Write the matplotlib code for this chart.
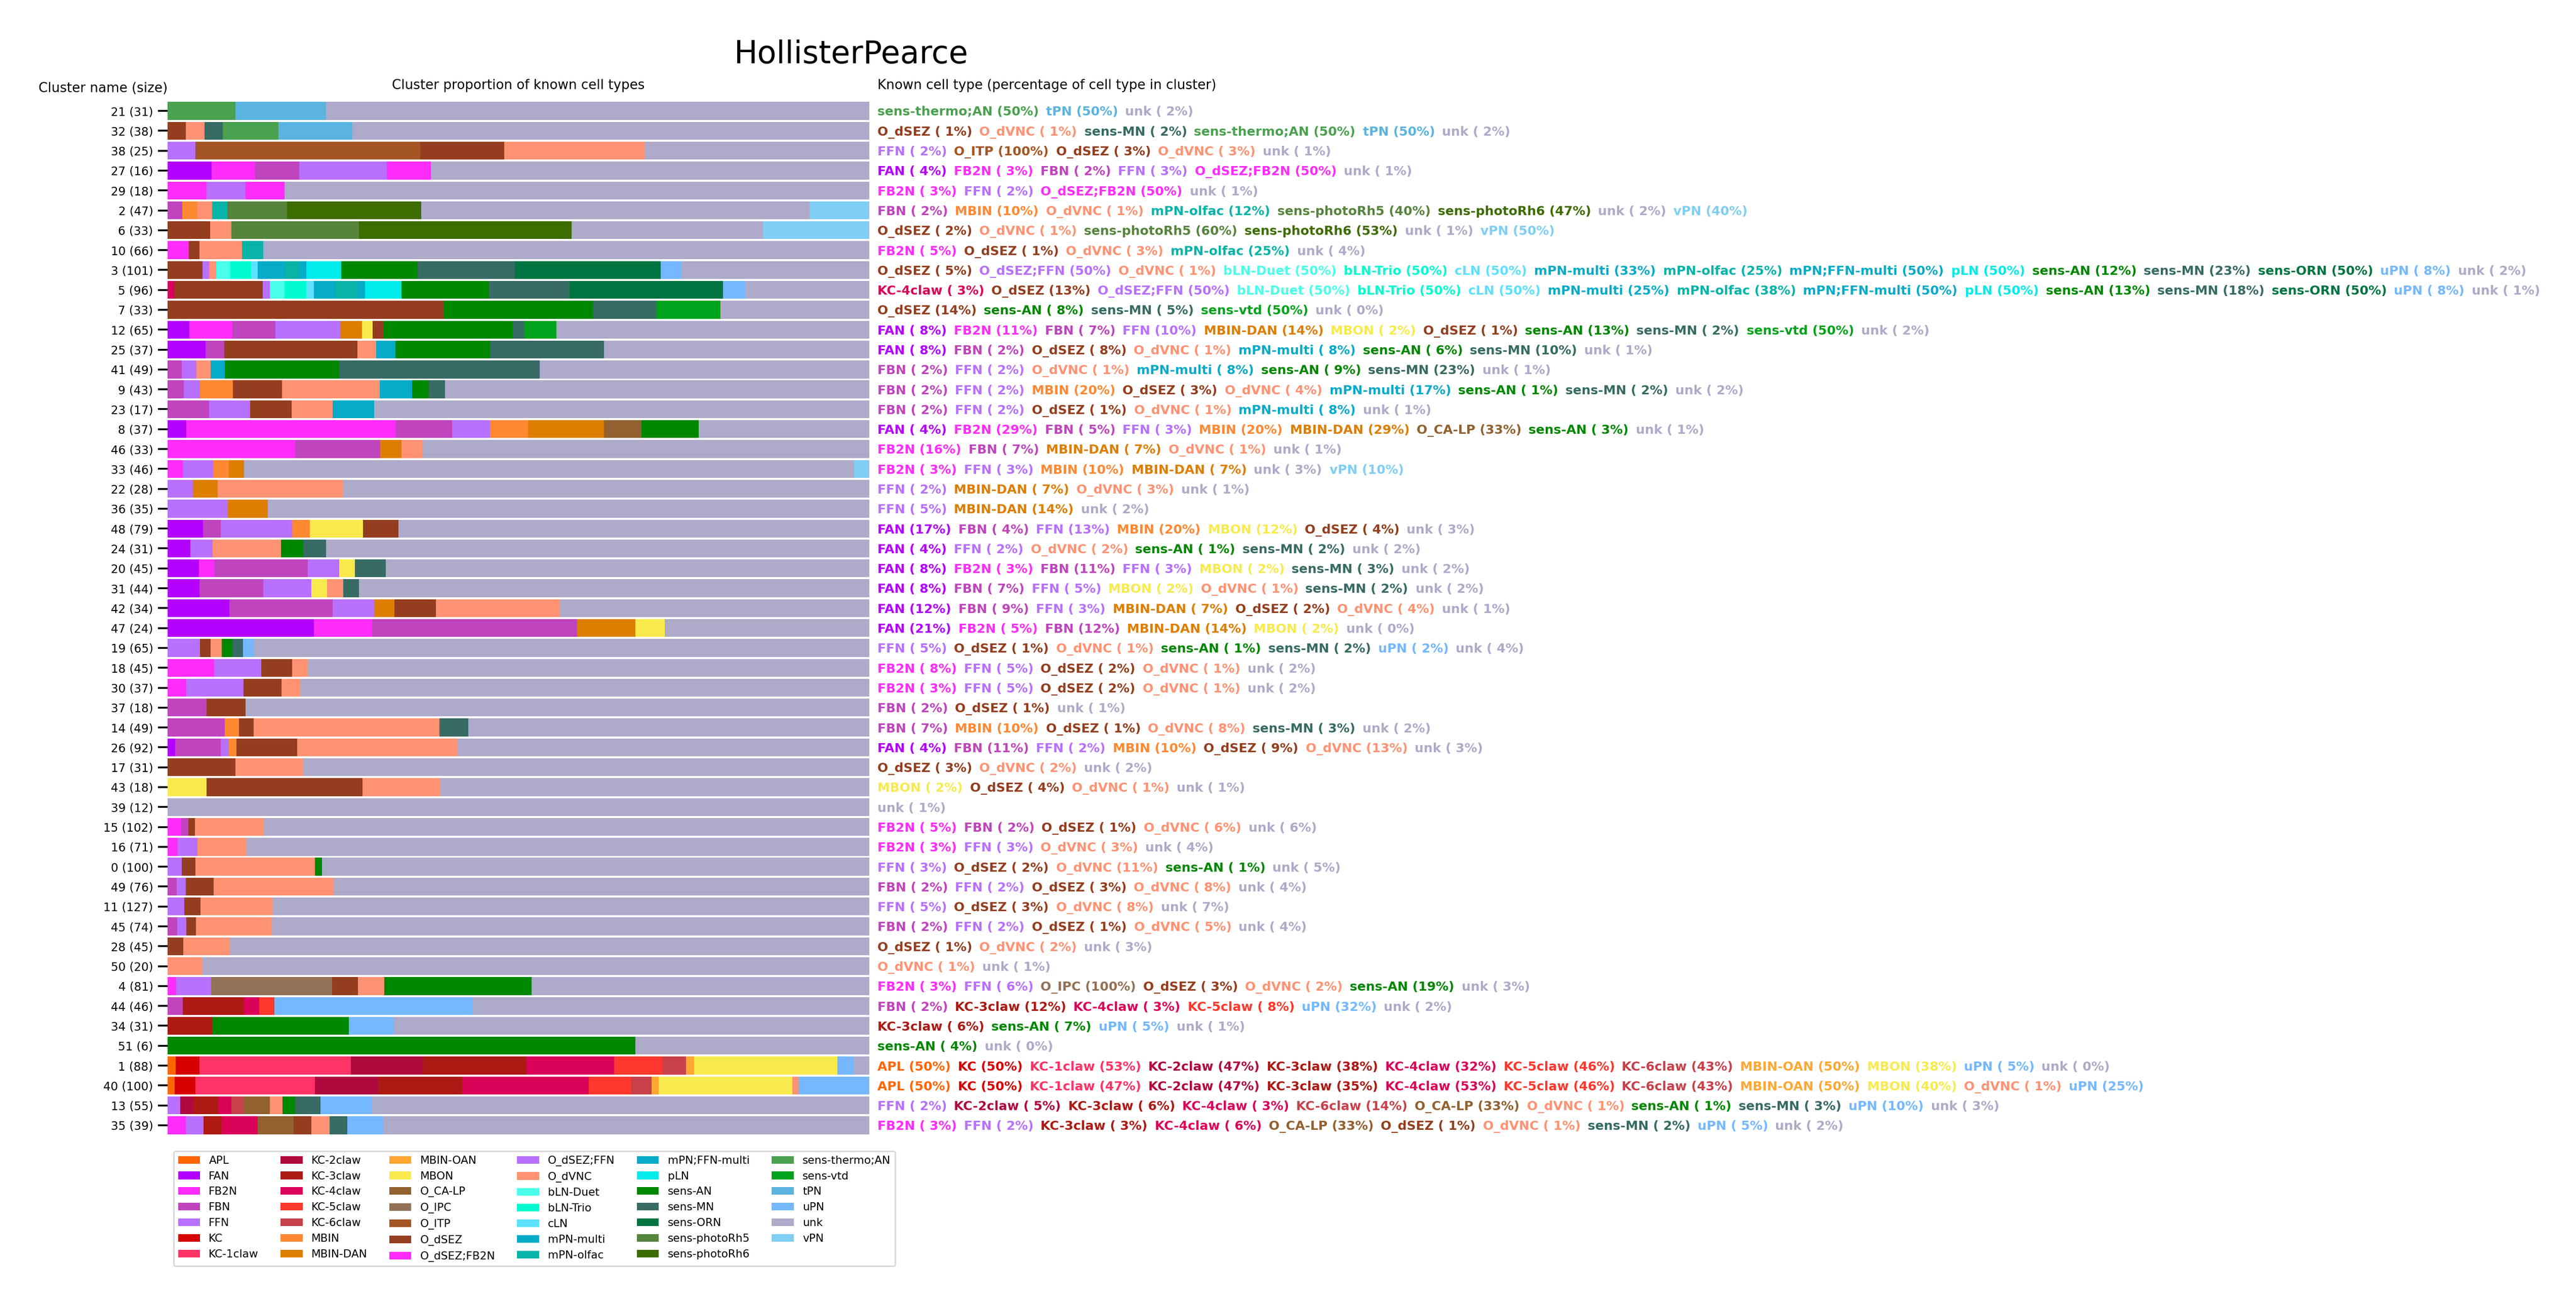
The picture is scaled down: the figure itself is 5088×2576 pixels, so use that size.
import matplotlib
matplotlib.use("Agg")
import matplotlib.pyplot as plt
from matplotlib.patches import Patch
from matplotlib.transforms import blended_transform_factory

# legend / stacking order of the cell types and their colours
cell_types = ["APL", "FAN", "FB2N", "FBN", "FFN", "KC", "KC-1claw", "KC-2claw", "KC-3claw",
              "KC-4claw", "KC-5claw", "KC-6claw", "MBIN", "MBIN-DAN", "MBIN-OAN", "MBON",
              "O_CA-LP", "O_IPC", "O_ITP", "O_dSEZ", "O_dSEZ;FB2N", "O_dSEZ;FFN", "O_dVNC",
              "bLN-Duet", "bLN-Trio", "cLN", "mPN-multi", "mPN-olfac", "mPN;FFN-multi", "pLN",
              "sens-AN", "sens-MN", "sens-ORN", "sens-photoRh5", "sens-photoRh6",
              "sens-thermo;AN", "sens-vtd", "tPN", "uPN", "unk", "vPN"]
type_colors = ["#ff6600", "#b300ff", "#ff2cfb", "#c044bd", "#b870ff", "#d60000", "#ff3366",
               "#b0093e", "#ad1a14", "#db025a", "#ff372c", "#c8414a", "#ff8833", "#dd7e00",
               "#ffa731", "#f8ea4c", "#926130", "#927157", "#a45524", "#943e1f", "#ff2cfb",
               "#b870ff", "#ff9273", "#4affe9", "#00fbd0", "#5ce1ff", "#06abc8", "#08b3a8",
               "#06abc8", "#00ebeb", "#008700", "#376b64", "#007542", "#55843c", "#3d6c00",
               "#4aa14f", "#00a31c", "#5bb4e0", "#75b8ff", "#adaaca", "#7fcef4"]

cluster_ids = [21, 32, 38, 27, 29, 2, 6, 10, 3, 5, 7, 12, 25, 41, 9, 23, 8, 46, 33, 22, 36, 48,
               24, 20, 31, 42, 47, 19, 18, 30, 37, 14, 26, 17, 43, 39, 15, 16, 0, 49, 11, 45,
               28, 50, 4, 44, 34, 51, 1, 40, 13, 35]
cluster_sizes = [31, 38, 25, 16, 18, 47, 33, 66, 101, 96, 33, 65, 37, 49, 43, 17, 37, 33, 46,
                 28, 35, 79, 31, 45, 44, 34, 24, 65, 45, 37, 18, 49, 92, 31, 18, 12, 102, 71,
                 100, 76, 127, 74, 45, 20, 81, 46, 31, 6, 88, 100, 55, 39]

# (cell type, cells in cluster, % of that cell type found in the cluster)
cluster_cells = [
    [("sens-thermo;AN", 3, 50), ("tPN", 4, 50), ("unk", 24, 2)],
    [("O_dSEZ", 1, 1), ("O_dVNC", 1, 1), ("sens-MN", 1, 2), ("sens-thermo;AN", 3, 50), ("tPN", 4, 50), ("unk", 28, 2)],
    [("FFN", 1, 2), ("O_ITP", 8, 100), ("O_dSEZ", 3, 3), ("O_dVNC", 5, 3), ("unk", 8, 1)],
    [("FAN", 1, 4), ("FB2N", 1, 3), ("FBN", 1, 2), ("FFN", 2, 3), ("O_dSEZ;FB2N", 1, 50), ("unk", 10, 1)],
    [("FB2N", 1, 3), ("FFN", 1, 2), ("O_dSEZ;FB2N", 1, 50), ("unk", 15, 1)],
    [("FBN", 1, 2), ("MBIN", 1, 10), ("O_dVNC", 1, 1), ("mPN-olfac", 1, 12), ("sens-photoRh5", 4, 40),
     ("sens-photoRh6", 9, 47), ("unk", 26, 2), ("vPN", 4, 40)],
    [("O_dSEZ", 2, 2), ("O_dVNC", 1, 1), ("sens-photoRh5", 6, 60), ("sens-photoRh6", 10, 53), ("unk", 9, 1), ("vPN", 5, 50)],
    [("FB2N", 2, 5), ("O_dSEZ", 1, 1), ("O_dVNC", 4, 3), ("mPN-olfac", 2, 25), ("unk", 57, 4)],
    [("O_dSEZ", 5, 5), ("O_dSEZ;FFN", 1, 50), ("O_dVNC", 1, 1), ("bLN-Duet", 2, 50), ("bLN-Trio", 3, 50),
     ("cLN", 1, 50), ("mPN-multi", 4, 33), ("mPN-olfac", 2, 25), ("mPN;FFN-multi", 1, 50), ("pLN", 5, 50),
     ("sens-AN", 11, 12), ("sens-MN", 14, 23), ("sens-ORN", 21, 50), ("uPN", 3, 8), ("unk", 27, 2)],
    [("KC-4claw", 1, 3), ("O_dSEZ", 12, 13), ("O_dSEZ;FFN", 1, 50), ("bLN-Duet", 2, 50), ("bLN-Trio", 3, 50),
     ("cLN", 1, 50), ("mPN-multi", 3, 25), ("mPN-olfac", 3, 38), ("mPN;FFN-multi", 1, 50), ("pLN", 5, 50),
     ("sens-AN", 12, 13), ("sens-MN", 11, 18), ("sens-ORN", 21, 50), ("uPN", 3, 8), ("unk", 17, 1)],
    [("O_dSEZ", 13, 14), ("sens-AN", 7, 8), ("sens-MN", 3, 5), ("sens-vtd", 3, 50), ("unk", 7, 0)],
    [("FAN", 2, 8), ("FB2N", 4, 11), ("FBN", 4, 7), ("FFN", 6, 10), ("MBIN-DAN", 2, 14), ("MBON", 1, 2),
     ("O_dSEZ", 1, 1), ("sens-AN", 12, 13), ("sens-MN", 1, 2), ("sens-vtd", 3, 50), ("unk", 29, 2)],
    [("FAN", 2, 8), ("FBN", 1, 2), ("O_dSEZ", 7, 8), ("O_dVNC", 1, 1), ("mPN-multi", 1, 8), ("sens-AN", 5, 6),
     ("sens-MN", 6, 10), ("unk", 14, 1)],
    [("FBN", 1, 2), ("FFN", 1, 2), ("O_dVNC", 1, 1), ("mPN-multi", 1, 8), ("sens-AN", 8, 9), ("sens-MN", 14, 23), ("unk", 23, 1)],
    [("FBN", 1, 2), ("FFN", 1, 2), ("MBIN", 2, 20), ("O_dSEZ", 3, 3), ("O_dVNC", 6, 4), ("mPN-multi", 2, 17),
     ("sens-AN", 1, 1), ("sens-MN", 1, 2), ("unk", 26, 2)],
    [("FBN", 1, 2), ("FFN", 1, 2), ("O_dSEZ", 1, 1), ("O_dVNC", 1, 1), ("mPN-multi", 1, 8), ("unk", 12, 1)],
    [("FAN", 1, 4), ("FB2N", 11, 29), ("FBN", 3, 5), ("FFN", 2, 3), ("MBIN", 2, 20), ("MBIN-DAN", 4, 29),
     ("O_CA-LP", 2, 33), ("sens-AN", 3, 3), ("unk", 9, 1)],
    [("FB2N", 6, 16), ("FBN", 4, 7), ("MBIN-DAN", 1, 7), ("O_dVNC", 1, 1), ("unk", 21, 1)],
    [("FB2N", 1, 3), ("FFN", 2, 3), ("MBIN", 1, 10), ("MBIN-DAN", 1, 7), ("unk", 40, 3), ("vPN", 1, 10)],
    [("FFN", 1, 2), ("MBIN-DAN", 1, 7), ("O_dVNC", 5, 3), ("unk", 21, 1)],
    [("FFN", 3, 5), ("MBIN-DAN", 2, 14), ("unk", 30, 2)],
    [("FAN", 4, 17), ("FBN", 2, 4), ("FFN", 8, 13), ("MBIN", 2, 20), ("MBON", 6, 12), ("O_dSEZ", 4, 4), ("unk", 53, 3)],
    [("FAN", 1, 4), ("FFN", 1, 2), ("O_dVNC", 3, 2), ("sens-AN", 1, 1), ("sens-MN", 1, 2), ("unk", 24, 2)],
    [("FAN", 2, 8), ("FB2N", 1, 3), ("FBN", 6, 11), ("FFN", 2, 3), ("MBON", 1, 2), ("sens-MN", 2, 3), ("unk", 31, 2)],
    [("FAN", 2, 8), ("FBN", 4, 7), ("FFN", 3, 5), ("MBON", 1, 2), ("O_dVNC", 1, 1), ("sens-MN", 1, 2), ("unk", 32, 2)],
    [("FAN", 3, 12), ("FBN", 5, 9), ("FFN", 2, 3), ("MBIN-DAN", 1, 7), ("O_dSEZ", 2, 2), ("O_dVNC", 6, 4), ("unk", 15, 1)],
    [("FAN", 5, 21), ("FB2N", 2, 5), ("FBN", 7, 12), ("MBIN-DAN", 2, 14), ("MBON", 1, 2), ("unk", 7, 0)],
    [("FFN", 3, 5), ("O_dSEZ", 1, 1), ("O_dVNC", 1, 1), ("sens-AN", 1, 1), ("sens-MN", 1, 2), ("uPN", 1, 2), ("unk", 57, 4)],
    [("FB2N", 3, 8), ("FFN", 3, 5), ("O_dSEZ", 2, 2), ("O_dVNC", 1, 1), ("unk", 36, 2)],
    [("FB2N", 1, 3), ("FFN", 3, 5), ("O_dSEZ", 2, 2), ("O_dVNC", 1, 1), ("unk", 30, 2)],
    [("FBN", 1, 2), ("O_dSEZ", 1, 1), ("unk", 16, 1)],
    [("FBN", 4, 7), ("MBIN", 1, 10), ("O_dSEZ", 1, 1), ("O_dVNC", 13, 8), ("sens-MN", 2, 3), ("unk", 28, 2)],
    [("FAN", 1, 4), ("FBN", 6, 11), ("FFN", 1, 2), ("MBIN", 1, 10), ("O_dSEZ", 8, 9), ("O_dVNC", 21, 13), ("unk", 54, 3)],
    [("O_dSEZ", 3, 3), ("O_dVNC", 3, 2), ("unk", 25, 2)],
    [("MBON", 1, 2), ("O_dSEZ", 4, 4), ("O_dVNC", 2, 1), ("unk", 11, 1)],
    [("unk", 12, 1)],
    [("FB2N", 2, 5), ("FBN", 1, 2), ("O_dSEZ", 1, 1), ("O_dVNC", 10, 6), ("unk", 88, 6)],
    [("FB2N", 1, 3), ("FFN", 2, 3), ("O_dVNC", 5, 3), ("unk", 63, 4)],
    [("FFN", 2, 3), ("O_dSEZ", 2, 2), ("O_dVNC", 17, 11), ("sens-AN", 1, 1), ("unk", 78, 5)],
    [("FBN", 1, 2), ("FFN", 1, 2), ("O_dSEZ", 3, 3), ("O_dVNC", 13, 8), ("unk", 58, 4)],
    [("FFN", 3, 5), ("O_dSEZ", 3, 3), ("O_dVNC", 13, 8), ("unk", 108, 7)],
    [("FBN", 1, 2), ("FFN", 1, 2), ("O_dSEZ", 1, 1), ("O_dVNC", 8, 5), ("unk", 63, 4)],
    [("O_dSEZ", 1, 1), ("O_dVNC", 3, 2), ("unk", 41, 3)],
    [("O_dVNC", 1, 1), ("unk", 19, 1)],
    [("FB2N", 1, 3), ("FFN", 4, 6), ("O_IPC", 14, 100), ("O_dSEZ", 3, 3), ("O_dVNC", 3, 2), ("sens-AN", 17, 19), ("unk", 39, 3)],
    [("FBN", 1, 2), ("KC-3claw", 4, 12), ("KC-4claw", 1, 3), ("KC-5claw", 1, 8), ("uPN", 13, 32), ("unk", 26, 2)],
    [("KC-3claw", 2, 6), ("sens-AN", 6, 7), ("uPN", 2, 5), ("unk", 21, 1)],
    [("sens-AN", 4, 4), ("unk", 2, 0)],
    [("APL", 1, 50), ("KC", 3, 50), ("KC-1claw", 19, 53), ("KC-2claw", 9, 47), ("KC-3claw", 13, 38),
     ("KC-4claw", 11, 32), ("KC-5claw", 6, 46), ("KC-6claw", 3, 43), ("MBIN-OAN", 1, 50), ("MBON", 18, 38),
     ("uPN", 2, 5), ("unk", 2, 0)],
    [("APL", 1, 50), ("KC", 3, 50), ("KC-1claw", 17, 47), ("KC-2claw", 9, 47), ("KC-3claw", 12, 35),
     ("KC-4claw", 18, 53), ("KC-5claw", 6, 46), ("KC-6claw", 3, 43), ("MBIN-OAN", 1, 50), ("MBON", 19, 40),
     ("O_dVNC", 1, 1), ("uPN", 10, 25)],
    [("FFN", 1, 2), ("KC-2claw", 1, 5), ("KC-3claw", 2, 6), ("KC-4claw", 1, 3), ("KC-6claw", 1, 14),
     ("O_CA-LP", 2, 33), ("O_dVNC", 1, 1), ("sens-AN", 1, 1), ("sens-MN", 2, 3), ("uPN", 4, 10), ("unk", 39, 3)],
    [("FB2N", 1, 3), ("FFN", 1, 2), ("KC-3claw", 1, 3), ("KC-4claw", 2, 6), ("O_CA-LP", 2, 33),
     ("O_dSEZ", 1, 1), ("O_dVNC", 1, 1), ("sens-MN", 1, 2), ("uPN", 2, 5), ("unk", 27, 2)],
]

W, H, DPI = 5088, 2576, 200
col = dict(zip(cell_types, type_colors))

fig = plt.figure(figsize=(W / DPI, H / DPI), dpi=DPI)
ax = fig.add_axes([331 / W, 1 - 2242.6 / H, 1386 / W, (2242.6 - 199.4) / H])

for i, (size, cells) in enumerate(zip(cluster_sizes, cluster_cells)):
    left = 0.0
    for t, n, _ in cells:
        ax.barh(i, n / size, left=left, height=0.9, color=col[t], linewidth=0)
        left += n / size

ax.set_xlim(0, 1)
ax.set_ylim(len(cluster_ids) - 0.5, -0.5)
ax.set_yticks(range(len(cluster_ids)))
ax.set_yticklabels([f"{c} ({s})" for c, s in zip(cluster_ids, cluster_sizes)], fontsize=8.3)
ax.tick_params(axis="y", length=6.8, width=1.3)
ax.set_xticks([])
for sp in ax.spines.values():
    sp.set_visible(False)

# headers
fig.text(1681 / W, 1 - 125 / H, "HollisterPearce", fontsize=22.3, ha="center", va="baseline")
fig.text(331 / W, 1 - 182 / H, "Cluster name (size)", fontsize=9.4, ha="right", va="baseline")
fig.text(1024 / W, 1 - 176 / H, "Cluster proportion of known cell types", fontsize=9.4,
         ha="center", va="baseline")
fig.text(1733 / W, 1 - 176 / H, "Known cell type (percentage of cell type in cluster)",
         fontsize=9.4, ha="left", va="baseline")

# coloured per-row annotations, laid out item by item
trans = blended_transform_factory(fig.transFigure, ax.transData)
renderer = fig.canvas.get_renderer()
gap = 14
for i, cells in enumerate(cluster_cells):
    x = 1733
    for t, n, p in cells:
        txt = ax.text(x / W, i + 0.24, f"{t} ({p:2d}%)", transform=trans, color=col[t],
                      fontsize=9, fontweight="bold", ha="left", va="baseline", clip_on=False)
        x += txt.get_window_extent(renderer).width + gap

handles = [Patch(facecolor=c, label=t) for t, c in zip(cell_types, type_colors)]
fig.legend(handles=handles, loc="upper left", bbox_to_anchor=(343 / W, 1 - 2274 / H),
           ncol=6, fontsize=7.8, borderaxespad=0)

fig.savefig("out.png", dpi=DPI)
